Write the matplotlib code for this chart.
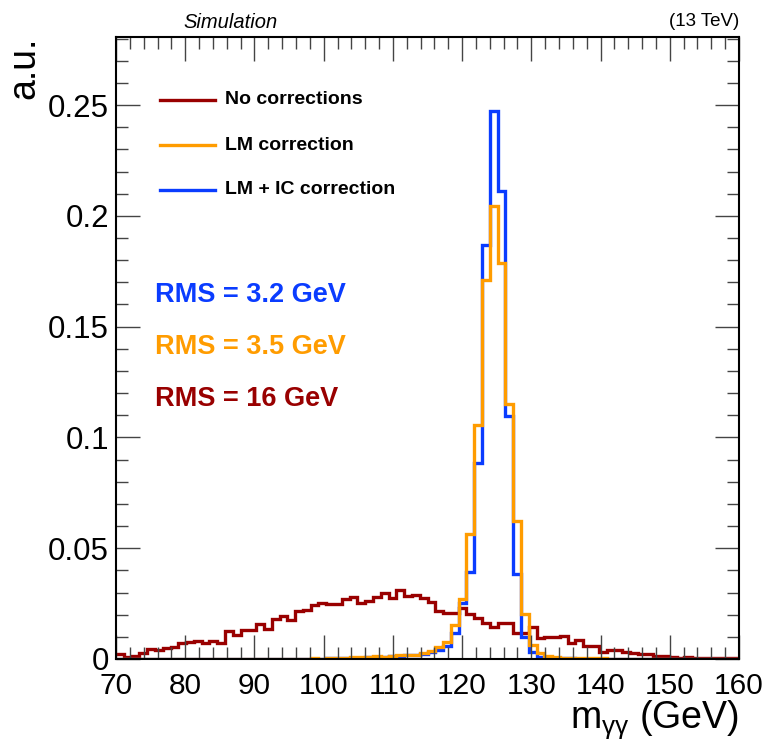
import numpy as np
import matplotlib
matplotlib.use("Agg")
import matplotlib.pyplot as plt
from matplotlib.ticker import MultipleLocator, FuncFormatter

plt.rcParams['font.family'] = ['Liberation Sans', 'DejaVu Sans']
plt.rcParams['mathtext.default'] = 'regular'

# diphoton mass histograms, 80 bins of 1.125 GeV between 70 and 160 GeV
edges = np.linspace(70, 160, 81)

no_corr = [
    0.0021, 0.0008, 0.0015, 0.0026, 0.0044, 0.0040, 0.0048, 0.0056, 0.0071, 0.0078,
    0.0080, 0.0071, 0.0081, 0.0071, 0.0126, 0.0108, 0.0129, 0.0129, 0.0157, 0.0134,
    0.0180, 0.0194, 0.0176, 0.0218, 0.0221, 0.0244, 0.0254, 0.0248, 0.0250, 0.0271,
    0.0281, 0.0254, 0.0263, 0.0281, 0.0299, 0.0274, 0.0311, 0.0284, 0.0289, 0.0274,
    0.0259, 0.0217, 0.0209, 0.0209, 0.0229, 0.0203, 0.0183, 0.0161, 0.0143, 0.0164,
    0.0161, 0.0119, 0.0116, 0.0143, 0.0093, 0.0101, 0.0098, 0.0104, 0.0074, 0.0086,
    0.0059, 0.0059, 0.0033, 0.0041, 0.0041, 0.0032, 0.0026, 0.0021, 0.0021, 0.0015,
    0.0015, 0.0011, 0.0006, 0.0011, 0.0006, 0.0006, 0.0003, 0.0003, 0.0003, 0.0003,
]

lm_corr = [
    0, 0, 0, 0, 0, 0, 0, 0, 0, 0,
    0, 0, 0, 0, 0, 0, 0, 0, 0, 0,
    0, 0, 0, 0, 0, 0.0003, 0.0002, 0.0004, 0.0006, 0.0004,
    0.0008, 0.0007, 0.0010, 0.0012, 0.0011, 0.0014, 0.0016, 0.0018, 0.0020, 0.0025,
    0.0035, 0.0055, 0.0078, 0.0153, 0.0271, 0.0564, 0.1055, 0.1710, 0.2044, 0.1786,
    0.1150, 0.0624, 0.0203, 0.0063, 0.0026, 0.0012, 0.0008, 0.0006, 0.0005, 0.0004,
    0.0004, 0.0003, 0.0003, 0.0002, 0.0002, 0.0002, 0.0001, 0.0001, 0.0001, 0.0001,
    0, 0, 0, 0, 0, 0, 0, 0, 0, 0,
]

lm_ic_corr = [
    0, 0, 0, 0, 0, 0, 0, 0, 0, 0,
    0, 0, 0, 0, 0, 0, 0, 0, 0, 0,
    0, 0, 0, 0, 0, 0.0002, 0.0001, 0.0003, 0.0005, 0.0003,
    0.0006, 0.0005, 0.0008, 0.0010, 0.0009, 0.0012, 0.0014, 0.0016, 0.0019, 0.0022,
    0.0030, 0.0040, 0.0059, 0.0116, 0.0251, 0.0394, 0.0886, 0.1868, 0.2474, 0.2113,
    0.1097, 0.0384, 0.0101, 0.0033, 0.0010, 0.0006, 0.0004, 0.0003, 0.0003, 0.0002,
    0.0002, 0.0002, 0.0001, 0.0001, 0.0001, 0.0001, 0.0001, 0, 0, 0,
    0, 0, 0, 0, 0, 0, 0, 0, 0, 0,
]

labels = ["No corrections", "LM correction", "LM + IC correction"]
rms_text = ["RMS = 3.2 GeV", "RMS = 3.5 GeV", "RMS = 16 GeV"]

red = "#990000"
orange = "#ff9c00"
blue = "#0a3cff"

W, H = 770, 743
fig = plt.figure(figsize=(W / 100, H / 100), dpi=100)
ax = fig.add_axes([116 / W, 84 / H, 623 / W, 622 / H])

lw = 2.4
ax.stairs(no_corr, edges, color=red, lw=lw, baseline=None)
ax.stairs(lm_ic_corr, edges, color=blue, lw=lw, baseline=None)
ax.stairs(lm_corr, edges, color=orange, lw=lw, baseline=None)

ax.set_xlim(70, 160)
ax.set_ylim(0, 0.2807)

ax.xaxis.set_major_locator(MultipleLocator(10))
ax.xaxis.set_minor_locator(MultipleLocator(2))
ax.yaxis.set_major_locator(MultipleLocator(0.05))
ax.yaxis.set_minor_locator(MultipleLocator(0.01))
ax.yaxis.set_major_formatter(FuncFormatter(lambda v, p: f"{v:g}"))

ax.tick_params(which="both", direction="in", top=True, right=True, width=1.0, color="#444444")
ax.tick_params(which="major", length=17)
ax.tick_params(which="minor", length=8.5)
ax.tick_params(axis="x", labelsize=21.5, pad=9)
ax.tick_params(axis="y", labelsize=22.5, pad=5)
for s in ax.spines.values():
    s.set_linewidth(1.5)

ax.set_xlabel(r"m$_{\gamma\gamma}$ (GeV)", fontsize=27, loc="right", labelpad=-1)
ax.set_ylabel("a.u.", fontsize=27, loc="top", labelpad=4)

fig.text(183 / W, 1 - 22 / H, "Simulation", fontsize=14.5, style="italic", va="center", ha="left")
fig.text(739 / W, 1 - 22 / H, "(13 TeV)", fontsize=13.5, va="center", ha="right")

# legend entries: short line sample followed by bold label
for lab, c, yy in zip(labels, (red, orange, blue), (100, 145, 190)):
    fig.add_artist(plt.Line2D([160 / W, 215 / W], [1 - yy / H, 1 - yy / H], color=c, lw=lw))
    fig.text(225 / W, 1 - yy / H, lab, fontsize=14, fontweight="bold", va="center", ha="left")

for txt, c, yy in zip(rms_text, (blue, orange, red), (295, 347, 399)):
    fig.text(155 / W, 1 - yy / H, txt, color=c, fontsize=19.5, fontweight="bold",
             va="center", ha="left")

fig.savefig("out.png", dpi=100)
